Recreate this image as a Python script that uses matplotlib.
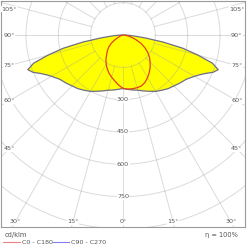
import numpy as np
import matplotlib
matplotlib.use("Agg")
import matplotlib.pyplot as plt

# luminous intensity (cd/klm) vs gamma angle (deg, 0 = nadir)
gamma_c90 = [0, 5, 10, 15, 20, 25, 30, 35, 40, 45, 50, 55, 60, 62.5, 65, 67.5,
             70, 72.5, 75, 77.5, 80, 82.5, 85, 87.5, 90]
c90_c270 = [248, 253, 259, 265, 276, 288, 302, 313, 325, 334, 346, 358, 383, 400,
            422, 452, 470, 435, 360, 285, 190, 105, 55, 25, 8]

gamma_c0 = [0, 5, 10, 15, 20, 25, 30, 35, 40, 45, 50, 55, 60, 65, 70, 75, 80, 85, 90]
c0 = [248, 252, 253, 253, 251, 242, 228, 212, 196, 178, 160, 140, 117, 92, 65, 42, 24, 10, 0]
c180 = [248, 233, 217, 203, 189, 173, 156, 138, 118, 102, 86, 66, 42, 24, 13, 6, 3, 1, 0]

rings = [150, 300, 450, 600, 750, 900]
ring_labels = ["300", "450", "600", "750"]
side_angles = [105, 90, 75, 60, 45]
bottom_angles = [-30, -15, 0, 15, 30]

GRID = "#a0a0a0"
TXT = "#555555"
FS = 4.6


def xy(gam, val, side=1):
    g = np.radians(np.asarray(gam, dtype=float))
    v = np.asarray(val, dtype=float)
    return side * v * np.sin(g), -v * np.cos(g)


fig = plt.figure(figsize=(2.47, 2.48), dpi=100)
ax = fig.add_axes([1 / 247, 21 / 248, 244 / 247, 226 / 248])
ax.set_xlim(-566, 566)
ax.set_ylim(-891, 158)
ax.set_xticks([])
ax.set_yticks([])
for s in ax.spines.values():
    s.set_color("#9a9a9a")
    s.set_linewidth(0.8)

# C90 - C270 filled shape
xr, yr = xy(gamma_c90, c90_c270, 1)
xl, yl = xy(gamma_c90[::-1], c90_c270[::-1], -1)
bx = np.concatenate([xr, xl])
by = np.concatenate([yr, yl])
ax.fill(bx, by, color="#ffff00", zorder=1, lw=0)

# grid
t = np.linspace(0, 2 * np.pi, 400)
for r in rings:
    ax.plot(r * np.cos(t), r * np.sin(t), color=GRID, alpha=0.38, lw=0.7, zorder=2)
for a in range(0, 360, 15):
    ar = np.radians(a)
    ax.plot([150 * np.sin(ar), 2000 * np.sin(ar)], [-150 * np.cos(ar), -2000 * np.cos(ar)],
            color=GRID, alpha=0.38, lw=0.7, zorder=2)

ax.plot(bx, by, color="#6e6e86", lw=0.9, zorder=3)

# C0 - C180
rx, ry = xy(gamma_c0, c0, 1)
lx, ly = xy(gamma_c0[::-1], c180[::-1], -1)
ax.plot(np.concatenate([rx, lx]), np.concatenate([ry, ly]), color="#e2401a", lw=0.9, zorder=4)

box = dict(facecolor="white", edgecolor="none", pad=0.3)
for lab in ring_labels:
    ax.text(0, -float(lab), lab, ha="center", va="center", fontsize=FS, color=TXT,
            bbox=box, zorder=5)

for a in side_angles:
    y = -528 / np.tan(np.radians(a))
    y = min(y, 120)
    for sx in (-1, 1):
        ax.text(sx * 528, y, f"{a}°", ha="center", va="center", fontsize=FS, color=TXT,
                bbox=box, zorder=5)
for a in bottom_angles:
    x = 870 * np.tan(np.radians(a))
    x = max(min(x, 522), -522)
    ax.text(x, -866, f"{abs(a)}°", ha="center", va="center", fontsize=FS, color=TXT,
            bbox=box, zorder=5)

# legend below
fig.text(5 / 247, 1 - 235 / 248, "cd/klm", fontsize=4.8, color=TXT, va="center")
fig.add_artist(plt.Line2D([3 / 247, 20 / 247], [1 - 242 / 248] * 2, color="#f08080", lw=0.8))
fig.text(22 / 247, 1 - 242 / 248, "C0 - C180", fontsize=FS, color=TXT, va="center")
fig.add_artist(plt.Line2D([53 / 247, 69 / 247], [1 - 242 / 248] * 2, color="#8080f0", lw=0.8))
fig.text(71 / 247, 1 - 242 / 248, "C90 - C270", fontsize=FS, color=TXT, va="center")
fig.text(238 / 247, 1 - 235 / 248, "η = 100%", fontsize=4.8, color=TXT, va="center", ha="right")

fig.savefig("out.png", dpi=100)
